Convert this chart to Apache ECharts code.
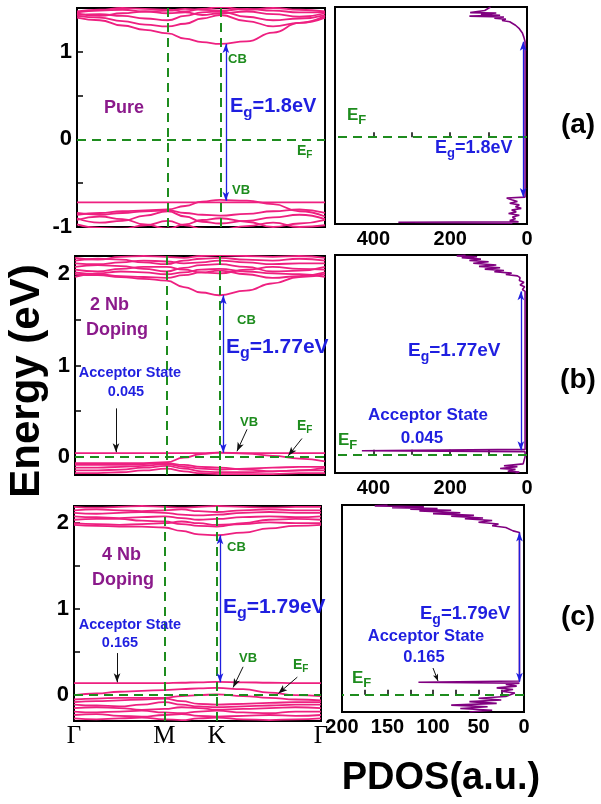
<!DOCTYPE html>
<html><head><meta charset="utf-8">
<script src="https://cdn.jsdelivr.net/npm/echarts@6/dist/echarts.min.js"></script>
<style>html,body{margin:0;padding:0;background:#fff}#c{width:601px;height:804px}</style>
</head><body><div id="c"></div>
<script>
const FF = '"Liberation Sans", Arial, sans-serif';
const PINK = '#EE2080', PURPLE = '#800080', GREEN = '#1E8C1E', BLUE = '#1F1FE0', TPURPLE = '#8B1A8B';

// k-path: Γ - M - K - Γ
const K_PTS = [0, 0.25, 0.5, 0.75, 1.0, 1.19, 1.38, 1.577, 1.87, 2.16, 2.45, 2.732];
const K_TICKS = [0, 1, 1.577, 2.732];
const K_NAMES = ['Γ', 'M', 'K', 'Γ'];

// (a) Pure
const bandsA = [
  [1.39, 1.36, 1.30, 1.25, 1.21, 1.15, 1.11, 1.09, 1.12, 1.22, 1.33, 1.39],
  [1.41, 1.39, 1.35, 1.31, 1.29, 1.32, 1.38, 1.42, 1.35, 1.29, 1.33, 1.41],
  [1.42, 1.43, 1.41, 1.38, 1.36, 1.41, 1.45, 1.46, 1.40, 1.36, 1.38, 1.42],
  [1.44, 1.41, 1.44, 1.46, 1.44, 1.45, 1.42, 1.44, 1.46, 1.43, 1.40, 1.44],
  [1.45, 1.47, 1.48, 1.46, 1.47, 1.49, 1.48, 1.47, 1.49, 1.47, 1.45, 1.45],
  [1.46, 1.48, 1.50, 1.49, 1.48, 1.46, 1.49, 1.51, 1.48, 1.50, 1.48, 1.46],
  [-0.72, -0.72, -0.72, -0.72, -0.72, -0.72, -0.72, -0.72, -0.72, -0.72, -0.72, -0.72],
  [-0.86, -0.84, -0.82, -0.81, -0.80, -0.76, -0.71, -0.69, -0.70, -0.74, -0.82, -0.88],
  [-0.84, -0.86, -0.84, -0.82, -0.81, -0.84, -0.86, -0.87, -0.85, -0.82, -0.80, -0.84],
  [-0.90, -0.95, -0.93, -0.87, -0.82, -0.88, -0.94, -0.96, -0.93, -0.89, -0.86, -0.91],
  [-0.92, -0.88, -0.91, -0.97, -1.02, -0.97, -0.92, -0.90, -0.94, -1.00, -0.96, -0.92],
  [-0.97, -1.01, -1.02, -0.98, -0.93, -0.98, -1.02, -1.03, -0.99, -0.95, -1.00, -0.98]
];
// (b) 2 Nb doping
const bandsB = [
  [2.00, 1.99, 1.97, 1.95, 1.93, 1.86, 1.80, 1.77, 1.82, 1.90, 1.97, 2.00],
  [2.02, 2.00, 1.98, 1.97, 1.96, 1.99, 2.02, 2.04, 2.00, 1.96, 1.98, 2.02],
  [2.05, 2.03, 2.06, 2.08, 2.08, 2.05, 2.02, 2.01, 2.05, 2.08, 2.06, 2.05],
  [2.08, 2.10, 2.09, 2.06, 2.03, 2.07, 2.10, 2.11, 2.08, 2.03, 2.04, 2.08],
  [2.12, 2.11, 2.13, 2.15, 2.14, 2.12, 2.13, 2.15, 2.13, 2.11, 2.12, 2.12],
  [2.15, 2.17, 2.16, 2.13, 2.11, 2.15, 2.17, 2.18, 2.16, 2.15, 2.17, 2.15],
  [2.18, 2.16, 2.19, 2.20, 2.19, 2.18, 2.20, 2.21, 2.20, 2.19, 2.20, 2.18],
  [1.97, 2.01, 2.03, 2.02, 2.00, 2.02, 2.05, 2.06, 2.03, 2.01, 2.00, 1.97],
  [0.04, 0.04, 0.04, 0.04, 0.04, 0.04, 0.04, 0.045, 0.04, 0.04, 0.04, 0.04],
  [-0.07, -0.07, -0.07, -0.07, -0.06, -0.01, 0.03, 0.045, 0.035, 0.01, -0.02, -0.05],
  [-0.09, -0.09, -0.09, -0.08, -0.07, -0.09, -0.11, -0.12, -0.14, -0.16, -0.15, -0.12],
  [-0.12, -0.12, -0.11, -0.10, -0.08, -0.11, -0.13, -0.14, -0.13, -0.12, -0.11, -0.11],
  [-0.15, -0.15, -0.14, -0.12, -0.10, -0.13, -0.16, -0.17, -0.17, -0.16, -0.15, -0.15],
  [-0.18, -0.18, -0.17, -0.15, -0.13, -0.16, -0.18, -0.19, -0.19, -0.19, -0.18, -0.18]
];
// (c) 4 Nb doping
const bandsC = [
  [1.98, 1.97, 1.96, 1.96, 1.95, 1.91, 1.87, 1.86, 1.89, 1.94, 1.97, 1.98],
  [2.00, 1.99, 1.98, 1.99, 2.00, 2.02, 2.00, 1.98, 1.99, 2.01, 2.00, 2.00],
  [2.04, 2.05, 2.05, 2.03, 2.02, 1.99, 1.97, 1.96, 2.00, 2.04, 2.05, 2.04],
  [2.08, 2.07, 2.06, 2.07, 2.08, 2.06, 2.04, 2.05, 2.07, 2.08, 2.07, 2.08],
  [2.12, 2.11, 2.12, 2.13, 2.12, 2.10, 2.09, 2.10, 2.12, 2.13, 2.12, 2.12],
  [2.15, 2.16, 2.15, 2.14, 2.15, 2.16, 2.14, 2.13, 2.15, 2.16, 2.15, 2.15],
  [2.19, 2.18, 2.19, 2.20, 2.19, 2.18, 2.19, 2.20, 2.19, 2.18, 2.19, 2.19],
  [0.14, 0.14, 0.14, 0.14, 0.14, 0.145, 0.15, 0.155, 0.15, 0.145, 0.14, 0.14],
  [0.00, 0.02, 0.04, 0.05, 0.06, 0.07, 0.08, 0.085, 0.07, 0.03, 0.00, -0.01],
  [-0.05, -0.04, -0.03, -0.03, -0.03, -0.01, 0.00, 0.01, -0.01, -0.03, -0.05, -0.06],
  [-0.08, -0.07, -0.06, -0.05, -0.04, -0.07, -0.10, -0.11, -0.10, -0.09, -0.08, -0.08],
  [-0.11, -0.12, -0.13, -0.11, -0.08, -0.11, -0.13, -0.14, -0.13, -0.12, -0.11, -0.11],
  [-0.15, -0.14, -0.15, -0.17, -0.16, -0.14, -0.15, -0.17, -0.16, -0.15, -0.14, -0.15],
  [-0.19, -0.20, -0.19, -0.18, -0.20, -0.21, -0.19, -0.18, -0.20, -0.21, -0.19, -0.19],
  [-0.23, -0.22, -0.24, -0.25, -0.23, -0.22, -0.24, -0.25, -0.24, -0.23, -0.24, -0.23],
  [-0.27, -0.28, -0.27, -0.26, -0.28, -0.29, -0.27, -0.26, -0.28, -0.29, -0.28, -0.27]
];

// PDOS (energy, value)
const pdosA_E = [1.50, 1.46, 1.435, 1.43, 1.415, 1.405, 1.395, 1.385, 1.37, 1.36, 1.345, 1.33, 1.31, 1.29, 1.25, 1.20, 1.15, 1.10, -0.69, -0.70, -0.72, -0.74, -0.76, -0.78, -0.80, -0.82, -0.84, -0.86, -0.88, -0.90, -0.92, -0.94, -0.96, -0.975, -0.98, -0.99, -1.00];
const pdosA_V = [95, 110, 148, 80, 120, 70, 150, 60, 85, 55, 65, 45, 50, 30, 20, 12, 8, 5, 5, 53, 40, 25, 45, 20, 30, 15, 40, 28, 48, 20, 38, 30, 45, 22, 335, 40, 40];
const pdosB_E = [2.20, 2.19, 2.18, 2.17, 2.155, 2.14, 2.125, 2.11, 2.09, 2.075, 2.06, 2.045, 2.03, 2.015, 2.00, 1.985, 1.97, 1.95, 1.92, 1.90, 1.87, 1.85, 1.82, 1.80, 0.06, 0.045, 0.035, -0.02, -0.10, -0.12, -0.13, -0.15, -0.16, -0.18, -0.19, -0.20];
const pdosB_V = [160, 183, 130, 170, 120, 150, 100, 140, 80, 125, 70, 110, 60, 85, 40, 55, 25, 18, 20, 8, 18, 6, 12, 5, 5, 430, 5, 5, 10, 60, 25, 70, 30, 50, 20, 30];
const pdosC_E = [2.20, 2.19, 2.18, 2.17, 2.16, 2.15, 2.14, 2.13, 2.11, 2.10, 2.08, 2.07, 2.05, 2.04, 2.02, 2.00, 1.98, 1.96, 1.94, 1.92, 1.90, 1.88, 0.16, 0.145, 0.135, 0.12, 0.10, 0.08, 0.06, 0.04, 0.02, 0.00, -0.02, -0.04, -0.06, -0.08, -0.10, -0.12, -0.14, -0.16, -0.18, -0.20];
const pdosC_V = [150, 164, 110, 145, 95, 125, 80, 115, 70, 100, 55, 80, 45, 65, 35, 50, 28, 35, 20, 22, 12, 5, 5, 116, 5, 20, 8, 30, 12, 25, 10, 15, 20, 50, 25, 60, 30, 80, 40, 70, 35, 60];

const grids = [
  {left: 77, top: 8, width: 248, height: 219},
  {left: 75, top: 256, width: 250, height: 219},
  {left: 74, top: 506, width: 247, height: 215},
  {left: 335, top: 7, width: 192, height: 217},
  {left: 335, top: 255, width: 192, height: 218},
  {left: 342, top: 505, width: 182, height: 207}
].map(g => Object.assign({show: true, borderColor: '#000', borderWidth: 2, backgroundColor: 'transparent'}, g));

const bandY = [
  {min: -1, max: 1.5, ticks: [-0.5, 0, 0.5, 1], labels: [-1, 0, 1]},
  {min: -0.2, max: 2.2, ticks: [0, 0.5, 1, 1.5, 2], labels: [0, 1, 2]},
  {min: -0.3, max: 2.2, ticks: [0, 0.5, 1, 1.5, 2], labels: [0, 1, 2]}
];
const pdosY = [{min: -1, max: 1.5}, {min: -0.2, max: 2.2}, {min: -0.2, max: 2.2}];
const pdosX = [
  {max: 500, ticks: [100, 200, 300, 400], labels: [0, 200, 400]},
  {max: 500, ticks: [100, 200, 300, 400], labels: [0, 200, 400]},
  {max: 200, ticks: [25, 50, 75, 100, 125, 150, 175], labels: [0, 50, 100, 150, 200]}
];

const xAxis = [], yAxis = [];
bandY.forEach((b, i) => {
  xAxis.push({
    type: 'value', gridIndex: i, min: 0, max: 2.732,
    axisLine: {show: false}, axisTick: {show: false}, splitLine: {show: false},
    axisLabel: {
      show: i === 2, customValues: K_TICKS, margin: 3,
      formatter: v => { let bi = 0; K_TICKS.forEach((t, j) => { if (Math.abs(t - v) < Math.abs(K_TICKS[bi] - v)) bi = j; }); return K_NAMES[bi]; },
      fontFamily: '"Liberation Serif", "Times New Roman", serif', fontSize: 25, color: '#000'
    }
  });
  yAxis.push({
    type: 'value', gridIndex: i, min: b.min, max: b.max,
    axisLine: {show: false}, splitLine: {show: false},
    axisTick: {show: true, inside: true, length: 6, customValues: b.ticks, lineStyle: {color: '#000', width: 1.5}},
    axisLabel: {customValues: b.labels, margin: 5, fontFamily: FF, fontWeight: 'bold', fontSize: 22, color: '#000'}
  });
});
pdosX.forEach((p, i) => {
  xAxis.push({
    type: 'value', gridIndex: 3 + i, min: 0, max: p.max, inverse: true,
    axisLine: {show: false}, splitLine: {show: false},
    axisTick: {show: true, inside: true, length: 5, customValues: p.ticks, lineStyle: {color: '#000', width: 1.5}},
    axisLabel: {customValues: p.labels, margin: 5, fontFamily: FF, fontWeight: 'bold', fontSize: 20, color: '#000'}
  });
  yAxis.push({
    type: 'value', gridIndex: 3 + i, min: pdosY[i].min, max: pdosY[i].max,
    axisLine: {show: false}, splitLine: {show: false}, axisTick: {show: false}, axisLabel: {show: false}
  });
});

const DASH = {color: GREEN, width: 2, type: [9, 6]};
function arrow(p1, p2, color, both, w, size) {
  const ls = {color: color, width: w, type: 'solid'};
  return [
    {coord: p1, symbol: both ? 'arrow' : 'none', symbolSize: size, lineStyle: ls},
    {coord: p2, symbol: 'arrow', symbolSize: size, lineStyle: ls}
  ];
}
function mark(list) {
  return {silent: true, symbol: 'none', label: {show: false}, animation: false, data: list};
}
const BLK = '#111';
const bandMarks = [
  [{xAxis: 1, lineStyle: DASH}, {xAxis: 1.577, lineStyle: DASH}, {yAxis: 0, lineStyle: DASH},
   arrow([1.64, 1.09], [1.64, -0.70], BLUE, true, 1.3, [5, 9])],
  [{xAxis: 1, lineStyle: DASH}, {xAxis: 1.577, lineStyle: DASH}, {yAxis: 0, lineStyle: DASH},
   arrow([1.62, 1.77], [1.62, 0.045], BLUE, true, 1.3, [5, 9]),
   arrow([0.448, 0.53], [0.448, 0.05], BLK, false, 1, [5, 9]),
   arrow([1.88, 0.30], [1.77, 0.06], BLK, false, 1, [5, 9]),
   arrow([2.48, 0.20], [2.33, 0.01], BLK, false, 1, [5, 9])],
  [{xAxis: 1, lineStyle: DASH}, {xAxis: 1.577, lineStyle: DASH}, {yAxis: 0, lineStyle: DASH},
   arrow([1.615, 1.86], [1.615, 0.15], BLUE, true, 1.3, [5, 9]),
   arrow([0.476, 0.49], [0.476, 0.15], BLK, false, 1, [5, 9]),
   arrow([1.87, 0.33], [1.76, 0.09], BLK, false, 1, [5, 9]),
   arrow([2.47, 0.21], [2.26, 0.02], BLK, false, 1, [5, 9])]
];
const pdosMarks = [
  [{yAxis: 0, lineStyle: DASH}, arrow([10, 1.10], [10, -0.69], BLUE, true, 1.3, [5, 9])],
  [{yAxis: 0, lineStyle: DASH}, arrow([16, 1.80], [16, 0.05], BLUE, true, 1.3, [5, 9])],
  [{yAxis: 0, lineStyle: DASH}, arrow([5, 1.88], [5, 0.15], BLUE, true, 1.3, [5, 9]),
   arrow([100, 0.31], [94.5, 0.16], BLK, false, 1, [4, 7])]
];

const series = [];
[bandsA, bandsB, bandsC].forEach((bands, gi) => {
  bands.forEach((b, idx) => {
    const s = {
      type: 'line', xAxisIndex: gi, yAxisIndex: gi, silent: true,
      data: K_PTS.map((k, j) => [k, b[j]]),
      smooth: 0.5, smoothMonotone: 'x', symbol: 'none',
      lineStyle: {color: PINK, width: 1.8}
    };
    if (idx === 0) s.markLine = mark(bandMarks[gi]);
    series.push(s);
  });
});
[[pdosA_E, pdosA_V], [pdosB_E, pdosB_V], [pdosC_E, pdosC_V]].forEach((p, i) => {
  series.push({
    type: 'line', xAxisIndex: 3 + i, yAxisIndex: 3 + i, silent: true,
    data: p[0].map((e, j) => [p[1][j], e]), symbol: 'none',
    lineStyle: {color: PURPLE, width: 1.6},
    markLine: mark(pdosMarks[i])
  });
});

function T(x, y, text, size, color, align) {
  return {type: 'text', x: x, y: y, z: 50, style: {text: text, fontSize: size, fontWeight: 'bold', fontFamily: FF, fill: color, align: align || 'left', verticalAlign: 'middle'}};
}
// main letter + subscript letter + rest (Liberation Sans bold metrics: E=0.667em, g/F=0.611em)
function S(x, yMid, main, sub, rest, size, color) {
  const ss = Math.round(size * 0.74);
  const out = [T(x, yMid, main, size, color), T(x + 0.667 * size, yMid + 0.32 * size, sub, ss, color)];
  if (rest) out.push(T(x + 0.667 * size + 0.611 * ss, yMid, rest, size, color));
  return out;
}

const graphic = [
  // (a)
  T(124, 108, 'Pure', 18, TPURPLE, 'center'),
  ...S(230, 106, 'E', 'g', '=1.8eV', 20, BLUE),
  T(228, 59, 'CB', 13, GREEN),
  T(232, 190, 'VB', 13, GREEN),
  ...S(297, 151, 'E', 'F', '', 14, GREEN),
  ...S(347, 115, 'E', 'F', '', 17, GREEN),
  ...S(435, 148, 'E', 'g', '=1.8eV', 18, BLUE),
  T(578, 125, '(a)', 28, '#000', 'center'),
  // (b)
  T(90, 305, '2 Nb', 18, TPURPLE),
  T(86, 330, 'Doping', 18, TPURPLE),
  T(237, 320, 'CB', 13, GREEN),
  ...S(226, 347, 'E', 'g', '=1.77eV', 21, BLUE),
  T(130, 373, 'Acceptor State', 14.5, BLUE, 'center'),
  T(126, 392, '0.045', 14.5, BLUE, 'center'),
  T(240, 422, 'VB', 13, GREEN),
  ...S(297, 426, 'E', 'F', '', 14, GREEN),
  ...S(408, 351, 'E', 'g', '=1.77eV', 19, BLUE),
  T(428, 415, 'Acceptor State', 17, BLUE, 'center'),
  T(422, 438, '0.045', 17, BLUE, 'center'),
  ...S(338, 440, 'E', 'F', '', 17, GREEN),
  T(578, 380, '(b)', 28, '#000', 'center'),
  // (c)
  T(102, 555, '4 Nb', 18, TPURPLE),
  T(92, 580, 'Doping', 18, TPURPLE),
  T(227, 547, 'CB', 13, GREEN),
  ...S(223, 607, 'E', 'g', '=1.79eV', 21, BLUE),
  T(130, 625, 'Acceptor State', 14.5, BLUE, 'center'),
  T(120, 643, '0.165', 14.5, BLUE, 'center'),
  T(239, 658, 'VB', 13, GREEN),
  ...S(293, 665, 'E', 'F', '', 14, GREEN),
  ...S(420, 614, 'E', 'g', '=1.79eV', 18.5, BLUE),
  T(426, 636, 'Acceptor State', 16.5, BLUE, 'center'),
  T(424, 657, '0.165', 16.5, BLUE, 'center'),
  ...S(352, 678, 'E', 'F', '', 17, GREEN),
  T(578, 617, '(c)', 28, '#000', 'center'),
  // axis titles
  {type: 'text', x: 27, y: 381, rotation: Math.PI / 2, z: 50,
   style: {text: 'Energy (eV)', fontSize: 42, fontWeight: 'bold', fontFamily: FF, fill: '#000', align: 'center', verticalAlign: 'middle'}},
  T(441, 779, 'PDOS(a.u.)', 38, '#000', 'center')
];

const chart = echarts.init(document.getElementById('c'), null, {renderer: 'canvas'});
chart.setOption({
  animation: false,
  backgroundColor: '#fff',
  grid: grids, xAxis: xAxis, yAxis: yAxis, series: series, graphic: graphic
});
</script></body></html>
